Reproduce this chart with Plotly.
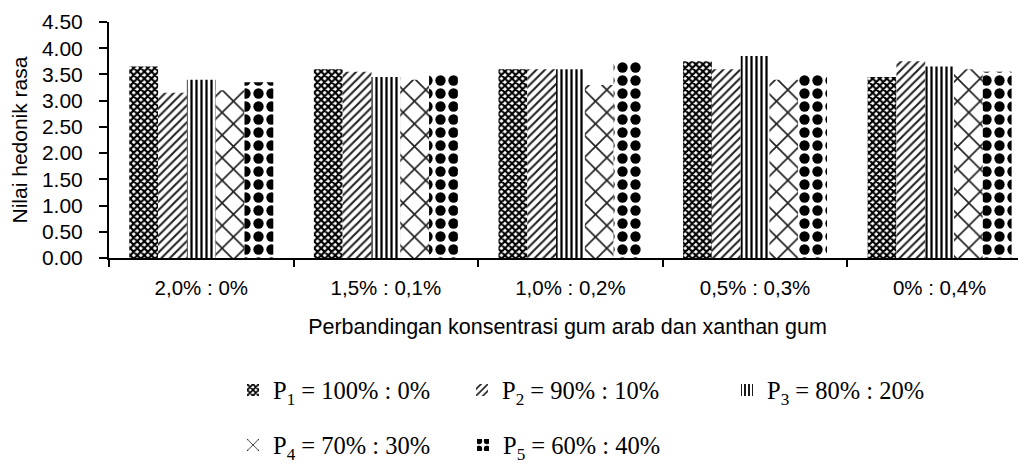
import plotly.graph_objects as go

categories = ["2,0% : 0%", "1,5% : 0,1%", "1,0% : 0,2%", "0,5% : 0,3%", "0% : 0,4%"]
series_names = [
    "P<sub>1</sub> = 100% : 0%",
    "P<sub>2</sub> = 90% : 10%",
    "P<sub>3</sub> = 80% : 20%",
    "P<sub>4</sub> = 70% : 30%",
    "P<sub>5</sub> = 60% : 40%",
]
p1 = [3.65, 3.60, 3.60, 3.75, 3.45]
p2 = [3.15, 3.55, 3.60, 3.60, 3.75]
p3 = [3.40, 3.45, 3.60, 3.85, 3.65]
p4 = [3.20, 3.40, 3.30, 3.40, 3.60]
p5 = [3.35, 3.50, 3.75, 3.50, 3.55]
values = [p1, p2, p3, p4, p5]

patterns = [
    dict(shape="x", size=5, solidity=0.65, fgcolor="#000000", bgcolor="white", fgopacity=1),
    dict(shape="/", size=6, solidity=0.35, fgcolor="#222222", bgcolor="white", fgopacity=1),
    dict(shape="|", size=5, solidity=0.45, fgcolor="#000000", bgcolor="white", fgopacity=1),
    dict(shape="x", size=16, solidity=0.2, fgcolor="#222222", bgcolor="white", fgopacity=1),
    dict(shape=".", size=13, solidity=0.5, fgcolor="#000000", bgcolor="white", fgopacity=1),
]

# the page body adds an 8px offset; the figure is sized to fill the rest
OFF = 8
W, H = 1026 - OFF, 468 - OFF
L, R, T, B = 109 - OFF, 0, 22 - OFF, 210
pw = W - L - R
ph = H - T - B

def px_x(px):
    return (px - OFF - L) / pw

def px_y(py):
    return (T + ph - (py - OFF)) / ph

legend_names = ["legend", "legend2", "legend3", "legend4", "legend5"]
legend_pos = [(233, 390), (462, 390), (727, 390), (233, 445), (463, 445)]

fig = go.Figure()
for i in range(5):
    fig.add_trace(go.Bar(
        x=categories, y=values[i], name=series_names[i],
        marker=dict(color="white", line=dict(width=0), pattern=patterns[i]),
        legend=legend_names[i], showlegend=True,
    ))

font_sans = "Liberation Sans, Arial, sans-serif"
font_serif = "Liberation Serif, Times New Roman, serif"

layout = dict(
    width=W, height=H,
    margin=dict(l=L, r=R, t=T, b=B, autoexpand=False),
    paper_bgcolor="white", plot_bgcolor="white",
    showlegend=True,
    barmode="group", bargap=0.22, bargroupgap=0,
    xaxis=dict(
        type="category", range=[-0.5, 4.468], automargin=False,
        showline=True, linecolor="black", linewidth=2,
        ticks="outside", tickson="boundaries", ticklen=7, tickwidth=2, tickcolor="black",
        tickfont=dict(family=font_sans, size=20.5, color="black"),
        ticklabelstandoff=10,
        showgrid=False,
        title=dict(text="Perbandingan konsentrasi gum arab dan xanthan gum",
                   font=dict(family=font_sans, size=21.5, color="black"), standoff=21),
    ),
    yaxis=dict(
        range=[0, 4.5], dtick=0.5, tickformat=".2f", automargin=False,
        showline=True, linecolor="black", linewidth=2,
        ticks="outside", ticklen=8, tickwidth=2, tickcolor="black",
        tickfont=dict(family=font_sans, size=21, color="black"),
        ticklabelstandoff=12,
        showgrid=False, zeroline=False,
        title=dict(text="Nilai hedonik rasa",
                   font=dict(family=font_sans, size=21, color="black"), standoff=10),
    ),
)
for name, (lx, ly) in zip(legend_names, legend_pos):
    layout[name] = dict(
        x=px_x(lx), y=px_y(ly), xanchor="left", yanchor="middle",
        orientation="h", bgcolor="rgba(0,0,0,0)", borderwidth=0,
        font=dict(family=font_serif, size=24.5, color="black"),
    )
fig.update_layout(**layout)
fig.write_html("out.html")
